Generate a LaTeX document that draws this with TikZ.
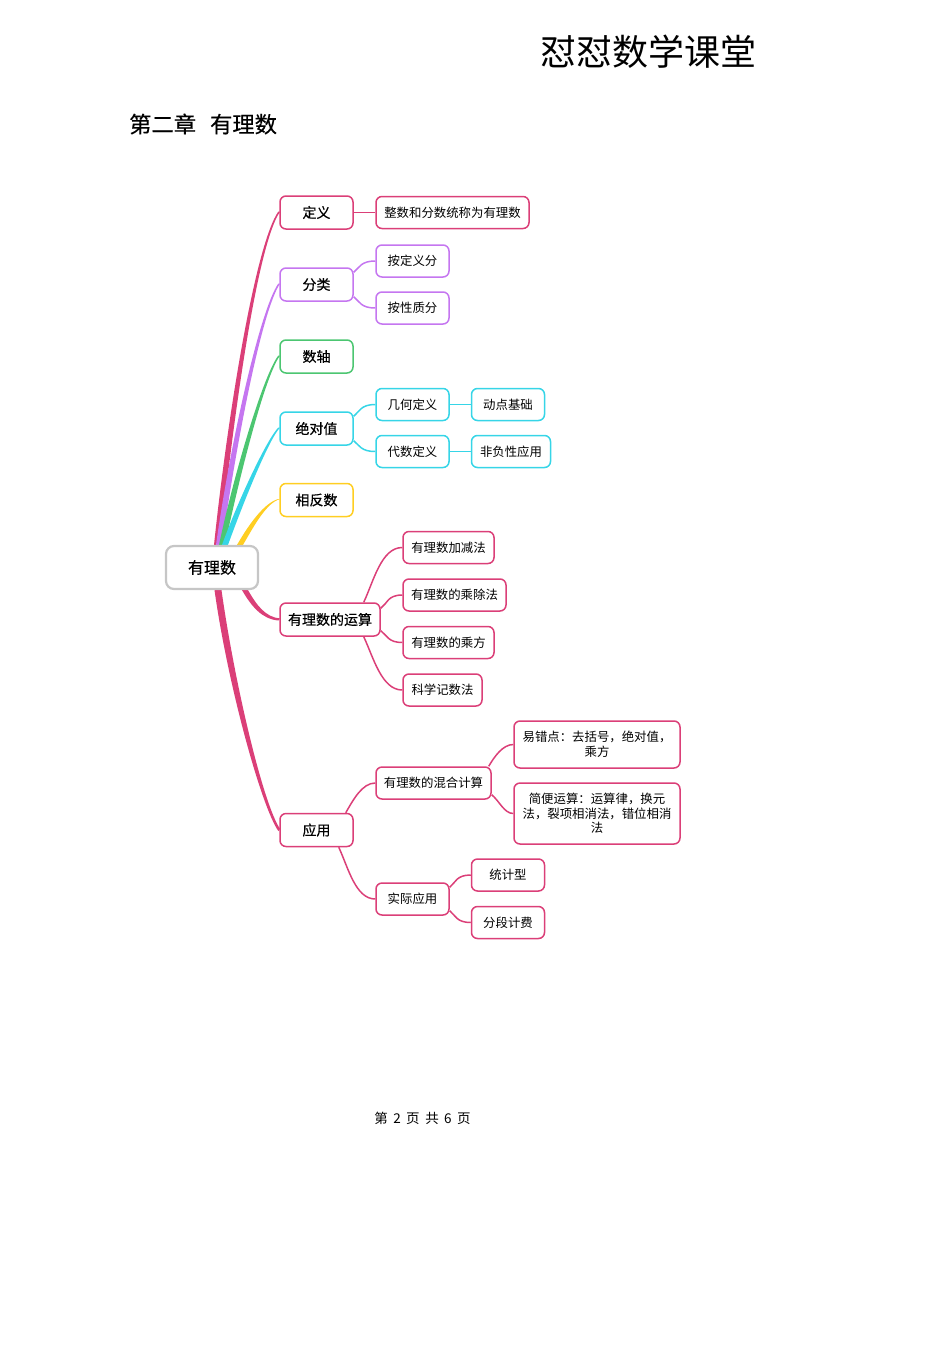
\documentclass[tikz,border=0pt]{standalone}
\usepackage{fontspec}
\setmainfont{Noto Sans CJK SC}
\newfontfamily\midfont[FakeBold=0.4]{Noto Sans CJK SC}
\usetikzlibrary{backgrounds}
\definecolor{mmrose}{HTML}{DB3F78}
\definecolor{mmpurple}{HTML}{C576F0}
\definecolor{mmgreen}{HTML}{4CC671}
\definecolor{mmcyan}{HTML}{36D5E7}
\definecolor{mmyellow}{HTML}{FFCE22}
\definecolor{mmgrey}{HTML}{C6C6C6}
\tikzset{
  mmbox/.style={draw,line width=1.5pt,rounded corners=6pt,fill=white,text=black,inner sep=0pt,align=center},
  toplevel/.style={mmbox,minimum width=73pt,minimum height=33pt,font=\midfont\fontsize{14}{16}\selectfont},
  sublevel/.style={mmbox,minimum width=#1,minimum height=32pt,font=\fontsize{12.4}{14.6}\selectfont},
  sublevel/.default=73pt,
  twig/.style={line width=1.5pt,out looseness=.8,in looseness=1.5},
  longtwig/.style={line width=1.5pt,out looseness=.9,in looseness=.8},
  pagetext/.style={inner sep=0pt,text=black}
}
% tapered branch out of the root: [in looseness] colour, root anchor, shift, to, out angle, in angle, half width at the root, end offset
\newcommand{\mmbranch}[9][.3]{
  \fill[#2] ([xshift=#4-#8]#3) to[out=#6,in=#7,out looseness=1,in looseness=#1] ([shift={(-.9pt,#9)}]#5)
    -- ([shift={(.9pt,(-1)*(#9))}]#5) to[out=#7,in=#6,out looseness=#1,in looseness=1] ([xshift=#4+#8]#3) -- cycle;
}
\begin{document}
\begin{tikzpicture}[x=1pt,y=-1pt]
\useasboundingbox (0,0) rectangle (950,1345);

\node[pagetext,font=\fontsize{36}{40}\selectfont] (brand) at (648,52) {怼怼数学课堂};
\node[pagetext,anchor=west,font=\midfont\fontsize{22.3}{26}\selectfont] (chapter) at (129,124) {第二章\hspace{14pt}有理数};
\node[pagetext,font=\fontsize{13.5}{16}\selectfont] (pageno) at (422.5,1118) {第\hspace{5.5pt}2\hspace{5.5pt}页\hspace{5.5pt}共\hspace{5.5pt}6\hspace{5.5pt}页};

\node[draw=mmgrey,line width=2.2pt,rounded corners=8pt,fill=white,minimum width=92pt,minimum height=43pt,inner sep=0pt,font=\midfont\fontsize{16}{18}\selectfont] (root) at (212,567.5) {有理数\hspace{8pt}};

\begin{scope}[mmrose]
\node[toplevel] (dingyi) at (316.5,212.5) {定义};
\node[sublevel=153pt] (dingyitext) at (452.5,212.5) {整数和分数统称为有理数};
\draw[twig] (dingyi) -- (dingyitext);
\end{scope}

\begin{scope}[mmpurple]
\node[toplevel] (fenlei) at (316.5,284.5) {分类};
\node[sublevel] (andingyi) at (412.5,261) {按定义分};
\node[sublevel] (anxingzhi) at (412.5,308) {按性质分};
\draw[twig] ([yshift=-5pt]fenlei.north east) to[out=40,in=180] (andingyi.west);
\draw[twig] ([yshift=5pt]fenlei.south east) to[out=-40,in=180] (anxingzhi.west);
\end{scope}

\begin{scope}[mmgreen]
\node[toplevel] (shuzhou) at (316.5,356.5) {数轴};
\end{scope}

\begin{scope}[mmcyan]
\node[toplevel] (jueduizhi) at (316.5,428.5) {绝对值};
\node[sublevel] (jihe) at (412.5,404.5) {几何定义};
\node[sublevel] (daishu) at (412.5,451.5) {代数定义};
\node[sublevel] (dongdian) at (508,404.5) {动点基础};
\node[sublevel=79pt] (feifu) at (511,451.5) {非负性应用};
\draw[twig] ([yshift=-5pt]jueduizhi.north east) to[out=40,in=180] (jihe.west);
\draw[twig] ([yshift=5pt]jueduizhi.south east) to[out=-40,in=180] (daishu.west);
\draw[twig] (jihe) -- (dongdian);
\draw[twig] (daishu) -- (feifu);
\end{scope}

\begin{scope}[mmyellow]
\node[toplevel] (xiangfan) at (316.5,500) {相反数};
\end{scope}

\begin{scope}[mmrose]
\node[toplevel,minimum width=100pt] (yunsuan) at (330,619.5) {有理数的运算};
\node[sublevel=91pt] (jiajian) at (448.5,547.5) {有理数加减法};
\node[sublevel=103pt] (chengchu) at (454.5,595) {有理数的乘除法};
\node[sublevel=91pt] (chengfang) at (448.5,642.5) {有理数的乘方};
\node[sublevel=79pt] (kexue) at (442.5,690) {科学记数法};
\draw[longtwig] ([xshift=-17pt]yunsuan.north east) to[out=65,in=180] (jiajian.west);
\draw[twig] ([yshift=-6pt]yunsuan.north east) to[out=35,in=180] (chengchu.west);
\draw[twig] ([yshift=6pt]yunsuan.south east) to[out=-35,in=180] (chengfang.west);
\draw[longtwig] ([xshift=-17pt]yunsuan.south east) to[out=-65,in=180] (kexue.west);

\node[toplevel] (yingyong) at (316.5,830) {应用};
\node[sublevel=115pt] (hunhe) at (433.5,783) {有理数的混合计算};
\node[sublevel=73pt] (shiji) at (412.5,899) {实际应用};
\node[sublevel=166pt,minimum height=47pt] (yicuo) at (597,744.5) {易错点：去括号，绝对值，\\乘方};
\node[sublevel=166pt,minimum height=61pt] (jianbian) at (597,813.5) {简便运算：运算律，换元\\法，裂项相消法，错位相消\\法};
\node[sublevel] (tongji) at (508,875) {统计型};
\node[sublevel] (fenduan) at (508,922.5) {分段计费};
\draw[longtwig] ([xshift=-8pt]yingyong.north east) to[out=60,in=180] (hunhe.west);
\draw[longtwig] ([xshift=-15pt]yingyong.south east) to[out=-65,in=180] (shiji.west);
\draw[longtwig] ([xshift=-3pt]hunhe.north east) to[out=60,in=180] (yicuo.west);
\draw[longtwig] ([yshift=5pt]hunhe.south east) to[out=-40,in=180] (jianbian.west);
\draw[twig] ([yshift=-5pt]shiji.north east) to[out=40,in=180] (tongji.west);
\draw[twig] ([yshift=5pt]shiji.south east) to[out=-40,in=180] (fenduan.west);
\end{scope}

\begin{scope}[on background layer]
\mmbranch{mmrose}{root.north}{5pt}{dingyi.west}{84}{235}{3pt}{1pt}
\mmbranch{mmpurple}{root.north}{7pt}{fenlei.west}{82}{235}{3pt}{1pt}
\mmbranch{mmgreen}{root.north}{10pt}{shuzhou.west}{78}{232}{3pt}{1pt}
\mmbranch{mmcyan}{root.north}{13pt}{jueduizhi.west}{70}{225}{3pt}{1pt}
\mmbranch[.6]{mmyellow}{root.north}{28pt}{xiangfan.west}{60}{195}{3pt}{1pt}
\mmbranch[.9]{mmrose}{root.south}{33pt}{yunsuan.west}{-60}{175}{3pt}{-1pt}
\mmbranch{mmrose}{root.south}{6pt}{yingyong.west}{-82}{125}{3.5pt}{-1pt}
\end{scope}

\end{tikzpicture}
\end{document}
